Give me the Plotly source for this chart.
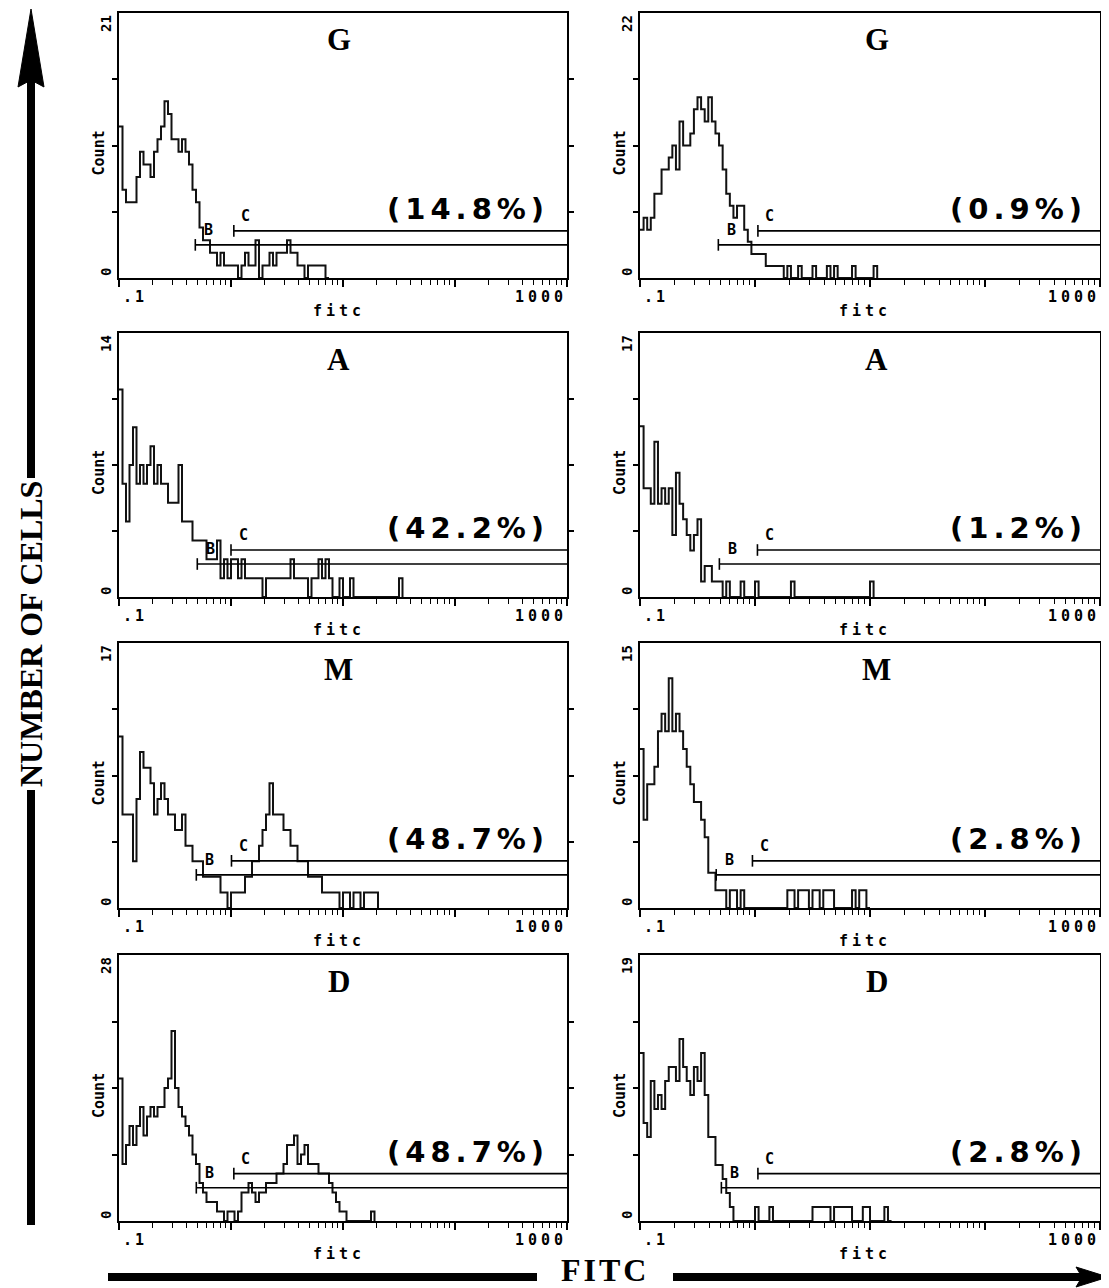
import math
import plotly.graph_objects as go

# ---------------- data ----------------
CH_PER_DECADE = 32      # channels per decade of fitc
LOG_MIN = -1            # axis starts at 0.1

panel_labels = ["G", "G", "A", "A", "M", "M", "D", "D"]
percent_labels = ["(14.8%)", "(0.9%)", "(42.2%)", "(1.2%)",
                  "(48.7%)", "(2.8%)", "(48.7%)", "(2.8%)"]
y_max = [21, 22, 14, 17, 17, 15, 28, 19]
gate_B_start = [0.48, 0.48, 0.50, 0.49, 0.49, 0.46, 0.49, 0.51]
gate_C_start = [1.06, 1.06, 1.00, 1.05, 1.01, 0.95, 1.06, 1.06]

counts_G_left = [12, 7, 6, 6, 6, 8, 10, 9, 9, 8, 10, 11, 12, 14, 13, 11, 11, 10, 11, 10,
                 9, 7, 6, 4, 3, 3, 2, 2, 1, 2, 1, 1, 1, 1, 0, 1, 2, 1, 1, 3,
                 0, 1, 1, 2, 1, 2, 2, 2, 3, 2, 2, 1, 1, 0, 1, 1, 1, 1, 1, 0]
counts_G_right = [4, 5, 4, 5, 7, 7, 9, 9, 10, 11, 9, 13, 11, 11, 12, 14, 15, 14, 13, 15,
                  13, 12, 11, 9, 7, 6, 5, 6, 6, 4, 3, 2, 2, 2, 2, 1, 1, 1, 1, 1,
                  0, 1, 0, 0, 1, 0, 0, 0, 1, 0, 0, 0, 1, 0, 1, 0, 0, 0, 0, 1,
                  0, 0, 0, 0, 0, 1]
counts_A_left = [11, 6, 4, 7, 9, 6, 7, 6, 7, 8, 6, 7, 6, 6, 5, 5, 5, 7, 4, 4,
                 4, 3, 3, 3, 3, 2, 2, 2, 3, 1, 2, 1, 2, 2, 1, 2, 1, 1, 1, 1,
                 1, 0, 1, 1, 1, 1, 1, 1, 1, 2, 1, 1, 1, 1, 0, 1, 1, 2, 1, 2,
                 1, 0, 0, 1, 0, 0, 1, 0, 0, 0, 0, 0, 0, 0, 0, 0, 0, 0, 0, 0,
                 1]
counts_A_right = [11, 7, 7, 6, 10, 6, 7, 6, 7, 4, 8, 6, 5, 4, 3, 4, 5, 1, 2, 2,
                  1, 1, 1, 0, 1, 0, 0, 0, 1, 0, 0, 0, 1, 0, 0, 0, 0, 0, 0, 0,
                  0, 0, 1, 0, 0, 0, 0, 0, 0, 0, 0, 0, 0, 0, 0, 0, 0, 0, 0, 0,
                  0, 0, 0, 0, 1]
counts_M_left = [11, 6, 6, 6, 3, 7, 10, 9, 9, 8, 6, 7, 8, 7, 6, 6, 5, 5, 6, 4,
                 4, 3, 3, 3, 2, 2, 2, 2, 2, 1, 1, 0, 1, 1, 1, 1, 2, 2, 3, 3,
                 4, 5, 6, 8, 6, 6, 6, 5, 5, 4, 4, 3, 3, 3, 2, 2, 2, 2, 1, 1,
                 1, 1, 1, 0, 1, 1, 0, 1, 1, 0, 1, 1, 1, 1]
counts_M_right = [9, 5, 7, 7, 8, 10, 11, 10, 13, 10, 11, 10, 9, 8, 7, 6, 6, 5, 4, 2,
                  2, 1, 1, 1, 0, 1, 1, 0, 1, 0, 0, 0, 0, 0, 0, 0, 0, 0, 0, 0,
                  0, 1, 1, 0, 1, 1, 1, 0, 1, 1, 0, 1, 1, 1, 0, 0, 0, 0, 0, 1,
                  0, 1, 1, 0]
counts_D_left = [15, 6, 8, 10, 8, 10, 12, 9, 11, 12, 11, 12, 12, 14, 15, 20, 14, 12, 11, 10,
                 9, 7, 6, 4, 3, 2, 2, 2, 1, 1, 0, 1, 1, 0, 1, 3, 3, 4, 3, 2,
                 3, 3, 4, 4, 4, 5, 5, 6, 8, 8, 9, 6, 7, 8, 6, 6, 6, 5, 5, 5,
                 4, 3, 2, 1, 1, 0, 0, 0, 0, 0, 0, 0, 1]
counts_D_right = [12, 7, 6, 10, 8, 9, 8, 10, 11, 11, 10, 13, 11, 10, 9, 11, 10, 12, 9, 6,
                  6, 4, 4, 3, 2, 1, 0, 0, 0, 0, 0, 0, 1, 0, 0, 0, 1, 0, 0, 0,
                  0, 0, 0, 0, 0, 0, 0, 0, 1, 1, 1, 1, 1, 0, 1, 1, 1, 1, 1, 0,
                  0, 0, 1, 1, 0, 0, 0, 0, 1, 0]

all_counts = [counts_G_left, counts_G_right, counts_A_left, counts_A_right,
              counts_M_left, counts_M_right, counts_D_left, counts_D_right]

x_tick_label_left = ".1"
x_tick_label_right = "1000"
x_axis_title = "fitc"
y_axis_title = "Count"
big_y_title = "NUMBER OF CELLS"
big_x_title = "FITC"

# ---------------- layout geometry (page pixels) ----------------
PAGE_W, PAGE_H = 1109, 1288
BODY_MARGIN = 8                      # default page margin around the plot div
W, H = PAGE_W - BODY_MARGIN, PAGE_H - BODY_MARGIN
cols_px = [(119, 567), (640, 1100)]
rows_px = [(13, 278), (333, 597), (643, 908), (955, 1221)]


def px(x):
    return (x - BODY_MARGIN) / W


def py(y):
    return 1 - (y - BODY_MARGIN) / H


MONO = "DejaVu Sans Mono"
SERIF = "Liberation Serif"
SANS = "DejaVu Sans"

major_ticks = [0.1, 1, 10, 100, 1000]
minor_ticks = [m * 10 ** d for d in range(-1, 3) for m in range(2, 10)]

fig = go.Figure()
annotations = []
shapes = []

for i, counts in enumerate(all_counts):
    n = i + 1
    r, c = divmod(i, 2)
    x0, x1 = cols_px[c]
    y0, y1 = rows_px[r]
    xname = "x" if n == 1 else f"x{n}"
    yname = "y" if n == 1 else f"y{n}"
    xkey = "xaxis" if n == 1 else f"xaxis{n}"
    ykey = "yaxis" if n == 1 else f"yaxis{n}"

    edges = [10 ** (LOG_MIN + k / CH_PER_DECADE) for k in range(len(counts) + 1)]
    fig.add_trace(go.Scatter(
        x=edges, y=list(counts) + [0], mode="lines",
        line=dict(shape="hv", color="#111111", width=2),
        xaxis=xname, yaxis=yname, showlegend=False, hoverinfo="skip"))

    ym = y_max[i]
    fig.update_layout(**{
        xkey: dict(domain=[px(x0), px(x1)], anchor=yname, type="log", range=[-1, 3],
                   showline=True, linecolor="black", linewidth=2, mirror=True,
                   ticks="outside", tickvals=major_ticks, ticklen=7, tickwidth=1.5,
                   tickcolor="black", showticklabels=False, showgrid=False, zeroline=False,
                   minor=dict(tickvals=minor_ticks, ticks="outside", ticklen=5,
                              tickwidth=1.2, tickcolor="black", showgrid=False),
                   fixedrange=True),
        ykey: dict(domain=[py(y1), py(y0)], anchor=xname, range=[0, ym],
                   showline=True, linecolor="black", linewidth=2, mirror="ticks",
                   ticks="outside", tickvals=[ym / 4, ym / 2, 3 * ym / 4], ticklen=5,
                   tickwidth=1.5, tickcolor="black", showticklabels=False,
                   showgrid=False, zeroline=False, fixedrange=True),
    })

    xd = f"{xname} domain"
    yd = f"{yname} domain"
    small = dict(family=MONO, size=14, color="black", weight="bold")

    annotations += [
        # y labels (rotated)
        dict(xref=xd, yref=yd, x=0, y=1, text=str(ym), textangle=-90, showarrow=False,
             xanchor="center", yanchor="middle", xshift=-13, yshift=-11, font=small),
        dict(xref=xd, yref=yd, x=0, y=0, text="0", textangle=-90, showarrow=False,
             xanchor="center", yanchor="middle", xshift=-13, yshift=6, font=small),
        dict(xref=xd, yref=yd, x=0, y=0.47, text=y_axis_title, textangle=-90, showarrow=False,
             xanchor="center", yanchor="middle", xshift=-20,
             font=dict(family=MONO, size=15, color="black", weight="bold")),
        # x labels
        dict(xref=xd, yref=yd, x=0, y=0, text=f'<span style="letter-spacing:3px">{x_tick_label_left}</span>',
             showarrow=False, xanchor="left", yanchor="top", xshift=2, yshift=-8,
             font=dict(family=MONO, size=15, color="black", weight="bold")),
        dict(xref=xd, yref=yd, x=1, y=0, text=f'<span style="letter-spacing:4px">{x_tick_label_right}</span>',
             showarrow=False, xanchor="right", yanchor="top", xshift=2, yshift=-8,
             font=dict(family=MONO, size=15, color="black", weight="bold")),
        dict(xref=xd, yref=yd, x=0.49, y=0, text=f'<span style="letter-spacing:4px">{x_axis_title}</span>',
             showarrow=False, xanchor="center", yanchor="top", yshift=-22,
             font=dict(family=MONO, size=15, color="black", weight="bold")),
        # panel label
        dict(xref=xd, yref=yd, x=0.49 if c == 0 else 0.515, y=0.9, text=panel_labels[i],
             showarrow=False, xanchor="center", yanchor="middle",
             font=dict(family=SERIF, size=31, color="black", weight="bold")),
        # percentage
        dict(xref=xd, yref=yd, x=0.965 if c == 0 else 0.975, y=0.26,
             text=f'<span style="letter-spacing:5px">{percent_labels[i]}</span>',
             showarrow=False, xanchor="right", yanchor="middle",
             font=dict(family=SANS, size=29, color="black", weight="bold")),
    ]

    # gates B and C (annotation x on a log axis is given as log10)
    for gx, gy, lab, dx in ((gate_B_start[i], 0.125, "B", 13), (gate_C_start[i], 0.178, "C", 12)):
        shapes.append(dict(type="line", xref=xname, yref=yd, x0=gx, x1=1000, y0=gy, y1=gy,
                           line=dict(color="black", width=1.6)))
        shapes.append(dict(type="line", xref=xname, yref=yd, x0=gx, x1=gx, y0=gy - 0.022, y1=gy + 0.022,
                           line=dict(color="black", width=1.6)))
        annotations.append(dict(xref=xname, yref=yd, x=math.log10(gx), y=gy, text=lab, showarrow=False,
                                xanchor="center", yanchor="middle", xshift=dx, yshift=15,
                                font=dict(family=MONO, size=15, color="black", weight="bold")))

# ---------------- big axis titles with arrows ----------------
AX = 31          # vertical arrow x (page px)
AY = 1277        # horizontal arrow y (page px)
shapes += [
    dict(type="line", xref="paper", yref="paper", x0=px(AX), x1=px(AX), y0=py(80), y1=py(478),
         line=dict(color="black", width=8)),
    dict(type="line", xref="paper", yref="paper", x0=px(AX), x1=px(AX), y0=py(790), y1=py(1225),
         line=dict(color="black", width=8)),
    dict(type="path", xref="paper", yref="paper", fillcolor="black", line=dict(color="black", width=1),
         path=f"M {px(AX)},{py(9)} L {px(AX + 13)},{py(87)} L {px(AX)},{py(80)} L {px(AX - 13)},{py(87)} Z"),
    dict(type="line", xref="paper", yref="paper", x0=px(108), x1=px(537), y0=py(AY), y1=py(AY),
         line=dict(color="black", width=8)),
    dict(type="line", xref="paper", yref="paper", x0=px(673), x1=px(1085), y0=py(AY), y1=py(AY),
         line=dict(color="black", width=8)),
    dict(type="path", xref="paper", yref="paper", fillcolor="black", line=dict(color="black", width=1),
         path=f"M {px(1108)},{py(AY)} L {px(1076)},{py(AY - 10)} L {px(1082)},{py(AY)} L {px(1076)},{py(AY + 10)} Z"),
]
annotations += [
    dict(xref="paper", yref="paper", x=px(AX), y=py(634), text=big_y_title, textangle=-90,
         showarrow=False, xanchor="center", yanchor="middle",
         font=dict(family=SERIF, size=32, color="black", weight="bold")),
    dict(xref="paper", yref="paper", x=px(605), y=py(1270),
         text=f'<span style="letter-spacing:3px">{big_x_title}</span>',
         showarrow=False, xanchor="center", yanchor="middle",
         font=dict(family=SERIF, size=32, color="black", weight="bold")),
]

fig.update_layout(width=W, height=H, margin=dict(l=0, r=0, t=0, b=0),
                  paper_bgcolor="white", plot_bgcolor="white",
                  annotations=annotations, shapes=shapes, showlegend=False)

fig.write_html("out.html")
